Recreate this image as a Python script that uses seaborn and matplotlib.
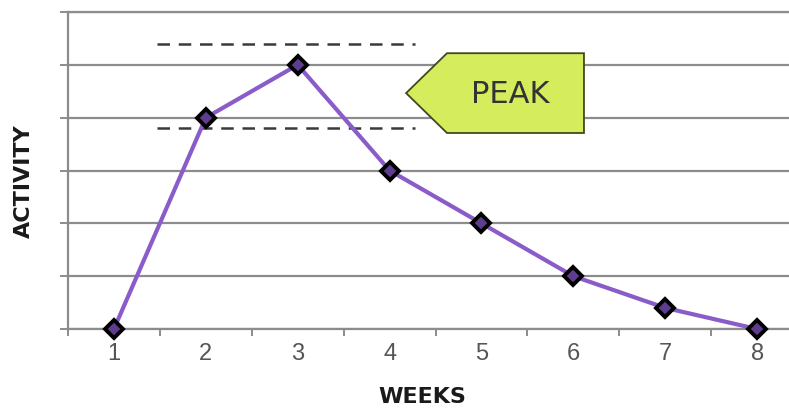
import matplotlib
matplotlib.use("Agg")
import matplotlib.pyplot as plt
from matplotlib.patches import Polygon
import seaborn as sns
import pandas as pd

# Weekly activity curve
weeks = [1, 2, 3, 4, 5, 6, 7, 8]
activity = [0, 4, 5, 3, 2, 1, 0.4, 0]

# Dashed band around the peak
band_levels = [5.4, 3.8]
band_span = [1.47, 4.28]

callout_text = "PEAK"
x_label = "WEEKS"
y_label = "ACTIVITY"

sns.set_theme(style="white")
plt.rcParams["font.family"] = ["Liberation Sans", "DejaVu Sans"]

df = pd.DataFrame({"week": weeks, "activity": activity})

fig = plt.figure(figsize=(7.89, 4.08), dpi=100)
W, H = 789, 408
ax = fig.add_axes([68 / W, (H - 329) / H, 735 / W, 317 / H])

grid_color = "#8c8c8c"
purple = "#8a5cc9"

ax.set_xlim(0.5, 8.5)
ax.set_ylim(0, 6)

# Horizontal grid
ax.set_yticks(range(0, 7))
ax.set_yticklabels([])
ax.yaxis.grid(True, color=grid_color, linewidth=1.6)
ax.xaxis.grid(False)
ax.tick_params(axis="y", length=6, width=1.4, color=grid_color, left=True)

# Week labels; tick marks sit between weeks
ax.set_xticks(weeks)
ax.set_xticklabels([str(w) for w in weeks], fontsize=17, color="#555555",
                   family=["Liberation Sans"])
ax.tick_params(axis="x", which="major", length=0, pad=10)
ax.set_xticks([w - 0.5 for w in weeks] + [8.5], minor=True)
ax.tick_params(axis="x", which="minor", length=5, width=1.4, color=grid_color, bottom=True)

for side in ["left", "bottom", "top"]:
    ax.spines[side].set_visible(True)
    ax.spines[side].set_color(grid_color)
    ax.spines[side].set_linewidth(1.6)
ax.spines["right"].set_visible(False)

# Dashed band
for lvl in band_levels:
    ax.plot(band_span, [lvl, lvl], color="#3a3a3a", linewidth=1.8,
            dashes=(5, 3.5), zorder=3)

sns.lineplot(data=df, x="week", y="activity", ax=ax, color=purple,
             linewidth=3.0, marker="D", markersize=9, markeredgecolor="black",
             markeredgewidth=2.8, markerfacecolor="#5e3d8f", zorder=5, clip_on=False)

# Peak callout
tip_x, left_x, right_x = 4.18, 4.625, 6.116
top_y, bottom_y = 5.22, 3.71
mid_y = (top_y + bottom_y) / 2
callout = Polygon([(tip_x, mid_y), (left_x, top_y), (right_x, top_y),
                   (right_x, bottom_y), (left_x, bottom_y)], closed=True,
                  facecolor="#d5ec5c", edgecolor="#3d4a1e", linewidth=1.3, zorder=6)
ax.add_patch(callout)
ax.text(5.31, mid_y - 0.02, callout_text, ha="center", va="center", fontsize=22,
        color="#333333", family=["DejaVu Sans"], zorder=7)

ax.set_xlabel("")
ax.set_ylabel("")
fig.text(422 / W, 1 - 397 / H, x_label, ha="center", va="center", fontsize=16,
         fontweight="bold", color="#1a1a1a", family=["DejaVu Sans"])
fig.text(24 / W, 1 - 181 / H, y_label, ha="center", va="center", fontsize=16,
         fontweight="bold", color="#1a1a1a", rotation=90, family=["DejaVu Sans"])

fig.savefig("out.png", dpi=100)
